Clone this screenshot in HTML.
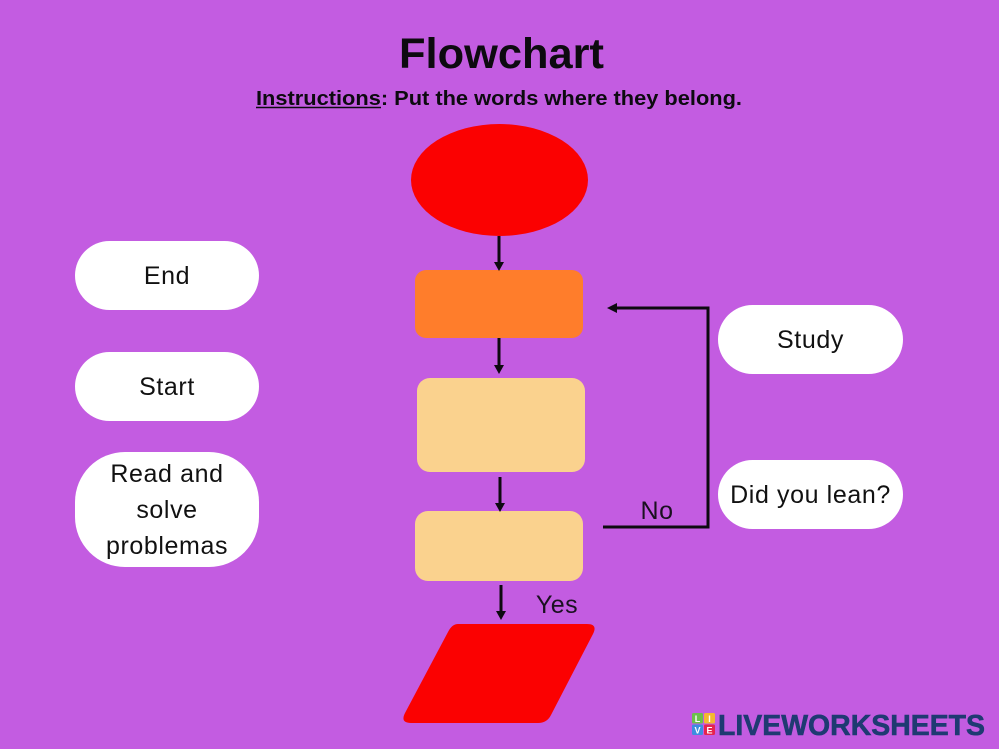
<!DOCTYPE html>
<html>
<head>
<meta charset="utf-8">
<style>
  html,body{margin:0;padding:0;}
  body{width:999px;height:749px;background:#c35ce1;overflow:hidden;position:relative;font-family:"Liberation Sans",sans-serif;}
  svg{position:absolute;left:0;top:0;}
</style>
</head>
<body>
<svg width="999" height="749" viewBox="0 0 999 749" xmlns="http://www.w3.org/2000/svg">
  <rect x="0" y="0" width="999" height="749" fill="#c35ce1"/>
  <!-- Title -->
  <text x="399" y="68" font-family="Liberation Sans, sans-serif" font-weight="bold" font-size="43" textLength="205" lengthAdjust="spacingAndGlyphs" fill="#0d0a10">Flowchart</text>
  <text x="256" y="105" font-family="Liberation Sans, sans-serif" font-weight="bold" font-size="20.5" textLength="486" lengthAdjust="spacingAndGlyphs" fill="#0d0a10">Instructions: Put the words where they belong.</text>
  <line x1="256" y1="107.5" x2="381" y2="107.5" stroke="#0d0a10" stroke-width="1.6"/>

  <!-- Main shapes -->
  <ellipse cx="499.5" cy="180" rx="88.5" ry="56" fill="#fb0101"/>
  <rect x="415" y="270" width="168" height="68" rx="11" fill="#ff7d2b"/>
  <rect x="417" y="378" width="168" height="94" rx="13" fill="#fad28e"/>
  <rect x="415" y="511" width="168" height="70" rx="13" fill="#fad28e"/>
  <path d="M458 624 L587 624 Q598 624 593 634 L551 715 Q547 723 538 723 L411 723 Q400 723 405 713 L448 632 Q452 624 458 624 Z" fill="#fb0101"/>

  <!-- Arrows -->
  <g stroke="#0d0a10" stroke-width="3" fill="none">
    <line x1="499" y1="236" x2="499" y2="263"/>
    <line x1="499" y1="338" x2="499" y2="366"/>
    <line x1="500" y1="477" x2="500" y2="504"/>
    <line x1="501" y1="585" x2="501" y2="612"/>
    <polyline points="603,527 708,527 708,308 616,308"/>
  </g>
  <g fill="#0d0a10">
    <polygon points="494,262 504,262 499,271"/>
    <polygon points="494,365 504,365 499,374"/>
    <polygon points="495,503 505,503 500,512"/>
    <polygon points="496,611 506,611 501,620"/>
    <polygon points="617,303 617,313 607,308"/>
  </g>

  <!-- Labels -->
  <text x="657" y="519" text-anchor="middle" font-family="Liberation Sans, sans-serif" font-size="25" letter-spacing="0.5" fill="#1a1020">No</text>
  <text x="557" y="613" text-anchor="middle" font-family="Liberation Sans, sans-serif" font-size="25" letter-spacing="0.5" fill="#1a1020">Yes</text>

  <!-- Word boxes -->
  <rect x="75" y="241" width="184" height="69" rx="34.5" fill="#ffffff"/>
  <rect x="75" y="352" width="184" height="69" rx="34.5" fill="#ffffff"/>
  <rect x="75" y="452" width="184" height="115" rx="50" fill="#ffffff"/>
  <rect x="718" y="305" width="185" height="69" rx="34.5" fill="#ffffff"/>
  <rect x="718" y="460" width="185" height="69" rx="34.5" fill="#ffffff"/>
  <g font-family="Liberation Sans, sans-serif" font-size="25" letter-spacing="0.6" fill="#111" text-anchor="middle">
    <text x="167" y="284">End</text>
    <text x="167" y="395">Start</text>
    <text x="167" y="482">Read and</text>
    <text x="167" y="518">solve</text>
    <text x="167" y="554">problemas</text>
    <text x="810.5" y="348">Study</text>
    <text x="810.5" y="503">Did you lean?</text>
  </g>

  <!-- Watermark logo -->
  <rect x="692" y="713" width="11" height="10.5" rx="1.5" fill="#6cc04a"/>
  <rect x="704" y="713" width="11" height="10.5" rx="1.5" fill="#f4b731"/>
  <rect x="692" y="724.5" width="11" height="10.5" rx="1.5" fill="#3d8de0"/>
  <rect x="704" y="724.5" width="11" height="10.5" rx="1.5" fill="#e6244e"/>
  <g font-family="Liberation Sans, sans-serif" font-weight="bold" font-size="9" fill="#ffffff" text-anchor="middle">
    <text x="697.5" y="722">L</text>
    <text x="709.5" y="722">I</text>
    <text x="697.5" y="733.5">V</text>
    <text x="709.5" y="733.5">E</text>
  </g>
  <text x="718" y="735" font-family="Liberation Sans, sans-serif" font-weight="bold" font-size="29" textLength="267" lengthAdjust="spacingAndGlyphs" fill="#1f3a72" stroke="#1f3a72" stroke-width="0.6">LIVEWORKSHEETS</text>
</svg>
</body>
</html>
